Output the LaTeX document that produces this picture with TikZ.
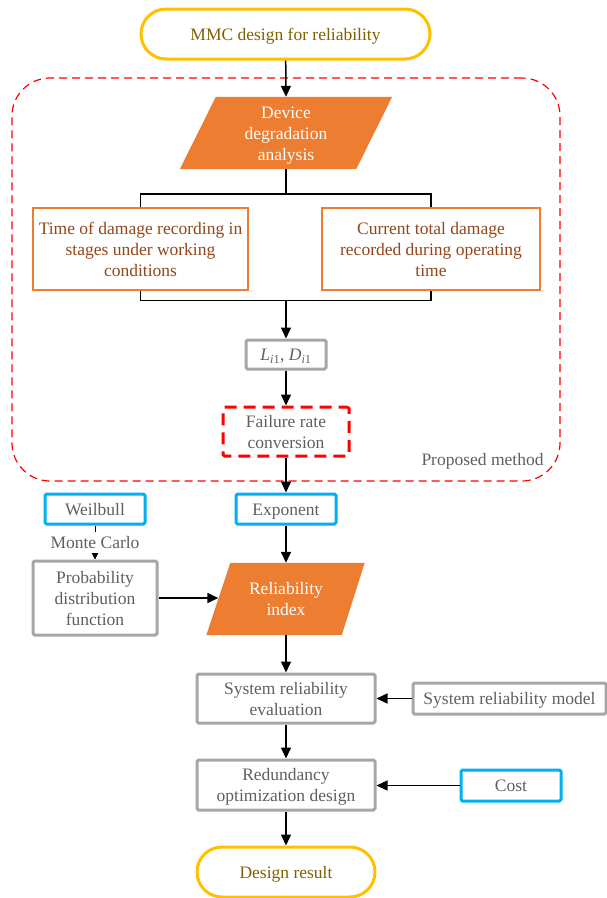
\documentclass[tikz,border=0pt]{standalone}
\usepackage{fontspec}
\setmainfont{Liberation Serif}
\usetikzlibrary{arrows.meta,calc,backgrounds}
\definecolor{goldB}{HTML}{FFC000}
\definecolor{goldT}{HTML}{806000}
\definecolor{orangeC}{HTML}{ED7D31}
\definecolor{brownT}{HTML}{93461A}
\definecolor{grayB}{HTML}{A6A6A6}
\definecolor{grayT}{HTML}{5F5F5F}
\definecolor{blueB}{HTML}{00B0F0}
\definecolor{redD}{HTML}{FF0000}
\newcommand\topst{\rule{0pt}{16.5pt}}
\newcommand\botst{\rule[-4.5pt]{0pt}{4.5pt}}
\begin{document}
\begin{tikzpicture}[x=1pt,y=-1pt,
  base/.style={font=\fontsize{17.5}{21}\selectfont, align=center, inner sep=0pt},
  graybox/.style={base, draw=grayB, line width=3pt, text=grayT, rounded corners=1.5pt},
  bluebox/.style={base, draw=blueB, line width=3pt, text=grayT, rounded corners=1.5pt},
  orbox/.style={base, draw=orangeC, line width=1.5pt, text=brownT},
  term/.style={base, draw=goldB, line width=3pt, text=goldT, rounded corners=25pt},
  redbox/.style={base, draw=redD, line width=3pt, dash pattern=on 12pt off 7pt, dash phase=3pt, text=grayT, rounded corners=1.5pt},
  paratext/.style={base, text=white},
  arr/.style={-{Triangle[length=11pt,width=10pt]}, line width=1.5pt},
  conn/.style={line width=1.5pt}]
\useasboundingbox (0,0) rectangle (607,898);

% container
\node[draw=redD, line width=1.2pt, dash pattern=on 8pt off 5pt, rounded corners=38pt,
      minimum width=548pt, minimum height=403pt, inner sep=0pt] (frame) at (286,279.5) {};
\node[base, text=grayT] (pm) at (482.5,459) {\topst Proposed method\botst};

% nodes
\node[term, minimum width=289pt, minimum height=50pt] (start) at (285.5,34) {\topst MMC design for reliability\botst};
\node[paratext, minimum width=140pt, minimum height=72pt] (dev) at (286,133) {\topst Device\\degradation\\analysis\botst};
\node[orbox, minimum width=215pt, minimum height=82pt] (tl) at (140.5,249) {\topst Time of damage recording in\\stages under working\\conditions\botst};
\node[orbox, minimum width=218pt, minimum height=82pt] (tr) at (431,249) {\topst Current total damage\\recorded during operating\\time\botst};
\node[graybox, minimum width=80pt, minimum height=29pt] (li) at (286,354.5) {\topst\textit{L}\textsubscript{\textit{i}1}, \textit{D}\textsubscript{\textit{i}1}\botst};
\node[redbox, minimum width=126pt, minimum height=49pt] (fr) at (286,431.5) {\topst Failure rate\\conversion\botst};
\node[bluebox, minimum width=100pt, minimum height=30pt] (exp) at (286,509) {\topst Exponent\botst};
\node[bluebox, minimum width=100pt, minimum height=30pt] (wb) at (95,509) {\topst Weilbull\botst};
\node[graybox, minimum width=124pt, minimum height=74pt] (prob) at (95,598) {\topst Probability\\distribution\\function\botst};
\node[paratext, minimum width=111pt, minimum height=72pt] (rel) at (286,599) {\topst Reliability\\index\botst};
\node[graybox, minimum width=178pt, minimum height=49pt] (sre) at (286,698.5) {\topst System reliability\\evaluation\botst};
\node[graybox, minimum width=193pt, minimum height=31pt] (srm) at (509.5,698.5) {\topst System reliability model\botst};
\node[graybox, minimum width=178pt, minimum height=50pt] (rod) at (286,785) {\topst Redundancy\\optimization design\botst};
\node[bluebox, minimum width=100pt, minimum height=31pt] (cost) at (511,785.5) {\topst Cost\botst};
\node[term, minimum width=178pt, minimum height=50pt] (end) at (286,872) {\topst Design result\botst};

% parallelogram fills
\begin{scope}[on background layer]
\fill[orangeC] ([xshift=-36pt]dev.south west) -- (dev.south east) -- ([xshift=36pt]dev.north east) -- (dev.north west) -- cycle;
\fill[orangeC] ([xshift=-24pt]rel.south west) -- (rel.south east) -- ([xshift=23pt]rel.north east) -- (rel.north west) -- cycle;
\end{scope}

% connectors
\coordinate (split) at ($(dev.south)+(0,25)$);
\coordinate (join) at ($(li.north)+(0,-38)$);
\coordinate (relL) at ([xshift=-12pt]rel.west);
\draw[arr] (start) -- (dev.north);
\draw[conn] (dev.south) -- (split);
\draw[conn] (tl.north) |- (split) -| (tr.north);
\draw[conn] (tl.south) |- (join) -| (tr.south);
\draw[arr] (join) -- (li.north);
\draw[arr] (li.south) -- (fr.north);
\draw[arr] (fr.south) -- (exp.north);
\draw[arr] (exp.south) -- (rel.north);
\draw[line width=1pt, -{Triangle[length=7pt,width=7pt]}] (wb.south) -- node[fill=white, base, text=grayT, inner sep=0pt] (mc) {\topst Monte Carlo\botst} (prob.north);
\draw[arr] (prob.east) -- (prob.east -| relL);
\draw[arr] (rel.south) -- (sre.north);
\draw[arr] (srm.west) -- (sre.east);
\draw[arr] (sre.south) -- (rod.north);
\draw[arr] (cost.west) -- (cost.west -| rod.east);
\draw[arr] (rod.south) -- (end.north);
\end{tikzpicture}
\end{document}
